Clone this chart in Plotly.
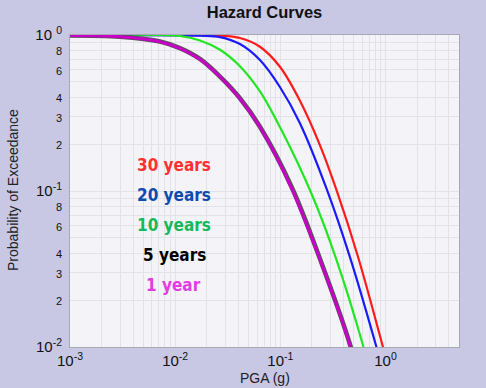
import plotly.graph_objects as go

# ---- data ----
pga_30 = [0.001, 0.0267, 0.0413, 0.064, 0.0991, 0.1536, 0.2379, 0.343, 0.546, 0.924, 1.05]
poe_30 = [0.995, 0.99, 0.956, 0.841, 0.626, 0.379, 0.197, 0.101, 0.0382, 0.0106, 0.0076]

pga_20 = [0.001, 0.0172, 0.0267, 0.0413, 0.064, 0.0991, 0.1536, 0.2773, 0.459, 0.81, 0.92]
poe_20 = [0.995, 0.99, 0.97, 0.875, 0.691, 0.464, 0.272, 0.102, 0.0377, 0.0103, 0.0075]

pga_10 = [0.001, 0.0111, 0.0172, 0.0267, 0.0413, 0.064, 0.0991, 0.198, 0.335, 0.61, 0.69]
poe_10 = [0.995, 0.985, 0.923, 0.804, 0.631, 0.435, 0.257, 0.096, 0.0377, 0.0103, 0.0075]

pga_5 = [0.001, 0.00299, 0.00717, 0.0111, 0.0172, 0.0267, 0.0413, 0.064, 0.129, 0.239, 0.461, 0.52]
poe_5 = [0.993, 0.976, 0.908, 0.824, 0.702, 0.541, 0.393, 0.258, 0.105, 0.0365, 0.0103, 0.0075]

pga_1 = [0.001, 0.00299, 0.00717, 0.0111, 0.0172, 0.0267, 0.0413, 0.064, 0.128, 0.238, 0.459, 0.518]
poe_1 = [0.993, 0.975, 0.906, 0.822, 0.70, 0.54, 0.391, 0.257, 0.104, 0.0364, 0.0103, 0.0075]

x_tickvals = [0.001, 0.002, 0.003, 0.004, 0.005, 0.006, 0.007, 0.008, 0.009,
              0.01, 0.02, 0.03, 0.04, 0.05, 0.06, 0.07, 0.08, 0.09,
              0.1, 0.2, 0.3, 0.4, 0.5, 0.6, 0.7, 0.8, 0.9,
              1, 2, 3, 4, 5]
x_ticktext = ["10<sup>-3</sup>", "", "", "", "", "", "", "", "",
              "10<sup>-2</sup>", "", "", "", "", "", "", "", "",
              "10<sup>-1</sup>", "", "", "", "", "", "", "", "",
              "10<sup>0</sup>", "", "", "", ""]

y_tickvals = [1, 0.9, 0.8, 0.7, 0.6, 0.5, 0.4, 0.3, 0.2,
              0.1, 0.09, 0.08, 0.07, 0.06, 0.05, 0.04, 0.03, 0.02, 0.01]
y_ticktext = ["10 <sup>0</sup>", "", "8", "", "6", "", "4", "3", "2",
              "10<sup>-1</sup>", "", "8", "", "6", "", "4", "3", "2",
              "10<sup>-2</sup>"]

labels = ["30 years", "20 years", "10 years", "5 years", "1 year"]
label_colors = ["#FF3030", "#0C4BB0", "#18B85A", "#000000", "#E23CE2"]

title_text = "Hazard Curves"
x_title = "PGA (g)"
y_title = "Probability of Exceedance"

# ---- figure ----
small = '<span style="font-size:11px">{}</span>'
y_ticktext = [small.format(t) if t and not t.startswith("10") else t for t in y_ticktext]

fig = go.Figure()
fig.add_trace(go.Scatter(x=pga_30, y=poe_30, mode="lines", line=dict(color="#FF1A1A", width=2.2, shape="spline", smoothing=1.0), name="30 years"))
fig.add_trace(go.Scatter(x=pga_20, y=poe_20, mode="lines", line=dict(color="#1A1AFF", width=2.2, shape="spline", smoothing=1.0), name="20 years"))
fig.add_trace(go.Scatter(x=pga_10, y=poe_10, mode="lines", line=dict(color="#22E622", width=2.2, shape="spline", smoothing=1.0), name="10 years"))
fig.add_trace(go.Scatter(x=pga_5, y=poe_5, mode="lines", line=dict(color="#555555", width=4.6, shape="spline", smoothing=1.0), name="5 years"))
fig.add_trace(go.Scatter(x=pga_1, y=poe_1, mode="lines", line=dict(color="#C800C8", width=3.0, shape="spline", smoothing=1.0), name="1 year"))

L, R, T, B = 70, 27, 35, 41
W, H = 486, 388
pw, ph = W - L - R, H - T - B


def px2paper(px, py):
    return (px - L) / pw, 1 - (py - T) / ph


label_px = [(173.5, 165), (173.5, 195), (173.5, 225), (174, 255), (173, 285)]
for txt, col, (px, py) in zip(labels, label_colors, label_px):
    ax, ay = px2paper(px, py)
    fig.add_annotation(x=ax, y=ay, xref="paper", yref="paper",
                       text="<b>" + txt + "</b>", showarrow=False,
                       font=dict(family="Liberation Sans Narrow, DejaVu Sans Condensed, sans-serif", size=17, color=col),
                       xanchor="center", yanchor="middle")

axfont = "Liberation Sans, Arial, sans-serif"
tx, ty = px2paper(264.5, 378)
fig.add_annotation(x=tx, y=ty, xref="paper", yref="paper", text=x_title, showarrow=False,
                   font=dict(family=axfont, size=14, color="#222222"), xanchor="center", yanchor="middle")
tx, ty = px2paper(13, 190)
fig.add_annotation(x=tx, y=ty, xref="paper", yref="paper", text=y_title, showarrow=False, textangle=-90,
                   font=dict(family=axfont, size=14, color="#222222"), xanchor="center", yanchor="middle")

axis_common = dict(showgrid=True, gridcolor="#E2E2E9", gridwidth=1, zeroline=False,
                   showline=True, linecolor="#A8A8B4", linewidth=1, mirror=True, automargin=False,
                   ticks="", tickfont=dict(family=axfont, size=15, color="#111111"))

fig.update_layout(
    width=W, height=H,
    margin=dict(l=L, r=R, t=T, b=B, autoexpand=False),
    paper_bgcolor="#C8C8E5",
    plot_bgcolor="#F4F4F8",
    showlegend=False,
    hovermode=False,
    title=dict(text="<b>" + title_text + "</b>", x=0.5, xref="paper", xanchor="center",
               yref="container", y=1 - 12 / H, yanchor="middle", automargin=False,
               font=dict(family=axfont, size=16.5, color="#111111")),
    xaxis=dict(type="log", range=[-3, 0.69897], tickmode="array", tickvals=x_tickvals, ticktext=x_ticktext,
               **axis_common),
    yaxis=dict(type="log", range=[-2, 0], tickmode="array", tickvals=y_tickvals, ticktext=y_ticktext,
               ticklabelstandoff=4, **axis_common),
)

fig.write_html("out.html", config={"displayModeBar": False},
               post_script="document.body.style.margin='0px';document.body.style.padding='0px';"
                           "document.body.style.background='#C8C8E5';")
